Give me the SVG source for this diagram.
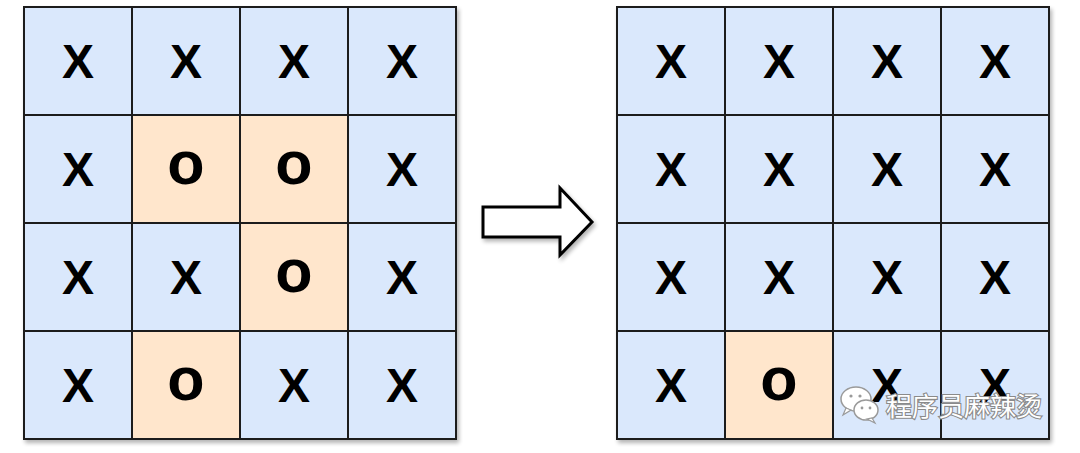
<svg xmlns="http://www.w3.org/2000/svg" width="1080" height="453" viewBox="0 0 1080 453">
  <style>
    .b { fill: #dae8fc; stroke: #1a1a1a; stroke-width: 2; }
    .o { fill: #ffe6cc; stroke: #1a1a1a; stroke-width: 2; }
    .tx { font-family: "Liberation Sans", Arial, sans-serif; font-weight: bold; font-size: 48px; fill: #000; text-anchor: middle; }
    .to { font-family: "Liberation Sans", Arial, sans-serif; font-weight: bold; font-size: 61px; fill: #000; text-anchor: middle; }
    .wm { font-family: "Noto Sans CJK SC", "Noto Sans", sans-serif; font-size: 26px; fill: #ffffff; stroke: #8a8a8a; stroke-width: 2.2; paint-order: stroke; }
  </style>
  <defs>
    <filter id="sh" x="-10%" y="-10%" width="130%" height="130%">
      <feGaussianBlur in="SourceAlpha" stdDeviation="2"/>
      <feOffset dx="2" dy="3" result="o"/>
      <feComponentTransfer><feFuncA type="linear" slope="0.3"/></feComponentTransfer>
      <feMerge><feMergeNode/><feMergeNode in="SourceGraphic"/></feMerge>
    </filter>
  </defs>
  <rect width="1080" height="453" fill="#ffffff"/>

  <g id="left-grid" filter="url(#sh)">
    <rect class="b" x="24" y="7" width="108" height="108"/>
    <rect class="b" x="132" y="7" width="108" height="108"/>
    <rect class="b" x="240" y="7" width="108" height="108"/>
    <rect class="b" x="348" y="7" width="108" height="108"/>
    <rect class="b" x="24" y="115" width="108" height="108"/>
    <rect class="o" x="132" y="115" width="108" height="108"/>
    <rect class="o" x="240" y="115" width="108" height="108"/>
    <rect class="b" x="348" y="115" width="108" height="108"/>
    <rect class="b" x="24" y="223" width="108" height="108"/>
    <rect class="b" x="132" y="223" width="108" height="108"/>
    <rect class="o" x="240" y="223" width="108" height="108"/>
    <rect class="b" x="348" y="223" width="108" height="108"/>
    <rect class="b" x="24" y="331" width="108" height="108"/>
    <rect class="o" x="132" y="331" width="108" height="108"/>
    <rect class="b" x="240" y="331" width="108" height="108"/>
    <rect class="b" x="348" y="331" width="108" height="108"/>
  </g>
  <g id="left-labels">
    <text class="tx" x="78" y="78">X</text>
    <text class="tx" x="186" y="78">X</text>
    <text class="tx" x="294" y="78">X</text>
    <text class="tx" x="402" y="78">X</text>
    <text class="tx" x="78" y="186">X</text>
    <text class="to" x="186" y="184">o</text>
    <text class="to" x="294" y="184">o</text>
    <text class="tx" x="402" y="186">X</text>
    <text class="tx" x="78" y="294">X</text>
    <text class="tx" x="186" y="294">X</text>
    <text class="to" x="294" y="292">o</text>
    <text class="tx" x="402" y="294">X</text>
    <text class="tx" x="78" y="402">X</text>
    <text class="to" x="186" y="400">o</text>
    <text class="tx" x="294" y="402">X</text>
    <text class="tx" x="402" y="402">X</text>
  </g>

  <g id="connectors">
    <path id="arrow" filter="url(#sh)" d="M483,207 L560,207 L560,188 L592,222 L560,255 L560,237 L483,237 Z" fill="#ffffff" stroke="#000000" stroke-width="3" stroke-linejoin="miter"/>
  </g>

  <g id="right-grid" filter="url(#sh)">
    <rect class="b" x="617" y="7" width="108" height="108"/>
    <rect class="b" x="725" y="7" width="108" height="108"/>
    <rect class="b" x="833" y="7" width="108" height="108"/>
    <rect class="b" x="941" y="7" width="108" height="108"/>
    <rect class="b" x="617" y="115" width="108" height="108"/>
    <rect class="b" x="725" y="115" width="108" height="108"/>
    <rect class="b" x="833" y="115" width="108" height="108"/>
    <rect class="b" x="941" y="115" width="108" height="108"/>
    <rect class="b" x="617" y="223" width="108" height="108"/>
    <rect class="b" x="725" y="223" width="108" height="108"/>
    <rect class="b" x="833" y="223" width="108" height="108"/>
    <rect class="b" x="941" y="223" width="108" height="108"/>
    <rect class="b" x="617" y="331" width="108" height="108"/>
    <rect class="o" x="725" y="331" width="108" height="108"/>
    <rect class="b" x="833" y="331" width="108" height="108"/>
    <rect class="b" x="941" y="331" width="108" height="108"/>
  </g>
  <g id="right-labels">
    <text class="tx" x="671" y="78">X</text>
    <text class="tx" x="779" y="78">X</text>
    <text class="tx" x="887" y="78">X</text>
    <text class="tx" x="995" y="78">X</text>
    <text class="tx" x="671" y="186">X</text>
    <text class="tx" x="779" y="186">X</text>
    <text class="tx" x="887" y="186">X</text>
    <text class="tx" x="995" y="186">X</text>
    <text class="tx" x="671" y="294">X</text>
    <text class="tx" x="779" y="294">X</text>
    <text class="tx" x="887" y="294">X</text>
    <text class="tx" x="995" y="294">X</text>
    <text class="tx" x="671" y="402">X</text>
    <text class="to" x="779" y="400">o</text>
    <text class="tx" x="887" y="402">X</text>
    <text class="tx" x="995" y="402">X</text>
  </g>

  <g id="watermark">
    <ellipse cx="856" cy="399" rx="15" ry="12" fill="#ffffff" stroke="#9a9a9a" stroke-width="1.5"/>
    <path d="M846,408 L843,415 L851,410 Z" fill="#ffffff" stroke="#9a9a9a" stroke-width="1.2"/>
    <ellipse cx="866" cy="410" rx="12" ry="10" fill="#ffffff" stroke="#9a9a9a" stroke-width="1.5"/>
    <path d="M872,418 L875,423 L867,419 Z" fill="#ffffff" stroke="#9a9a9a" stroke-width="1.2"/>
    <circle cx="851" cy="396" r="1.6" fill="#9a9a9a"/>
    <circle cx="860" cy="396" r="1.6" fill="#9a9a9a"/>
    <circle cx="862" cy="408" r="1.4" fill="#9a9a9a"/>
    <circle cx="870" cy="408" r="1.4" fill="#9a9a9a"/>
    <text class="wm" x="886" y="416">程序员麻辣烫</text>
  </g>
</svg>
